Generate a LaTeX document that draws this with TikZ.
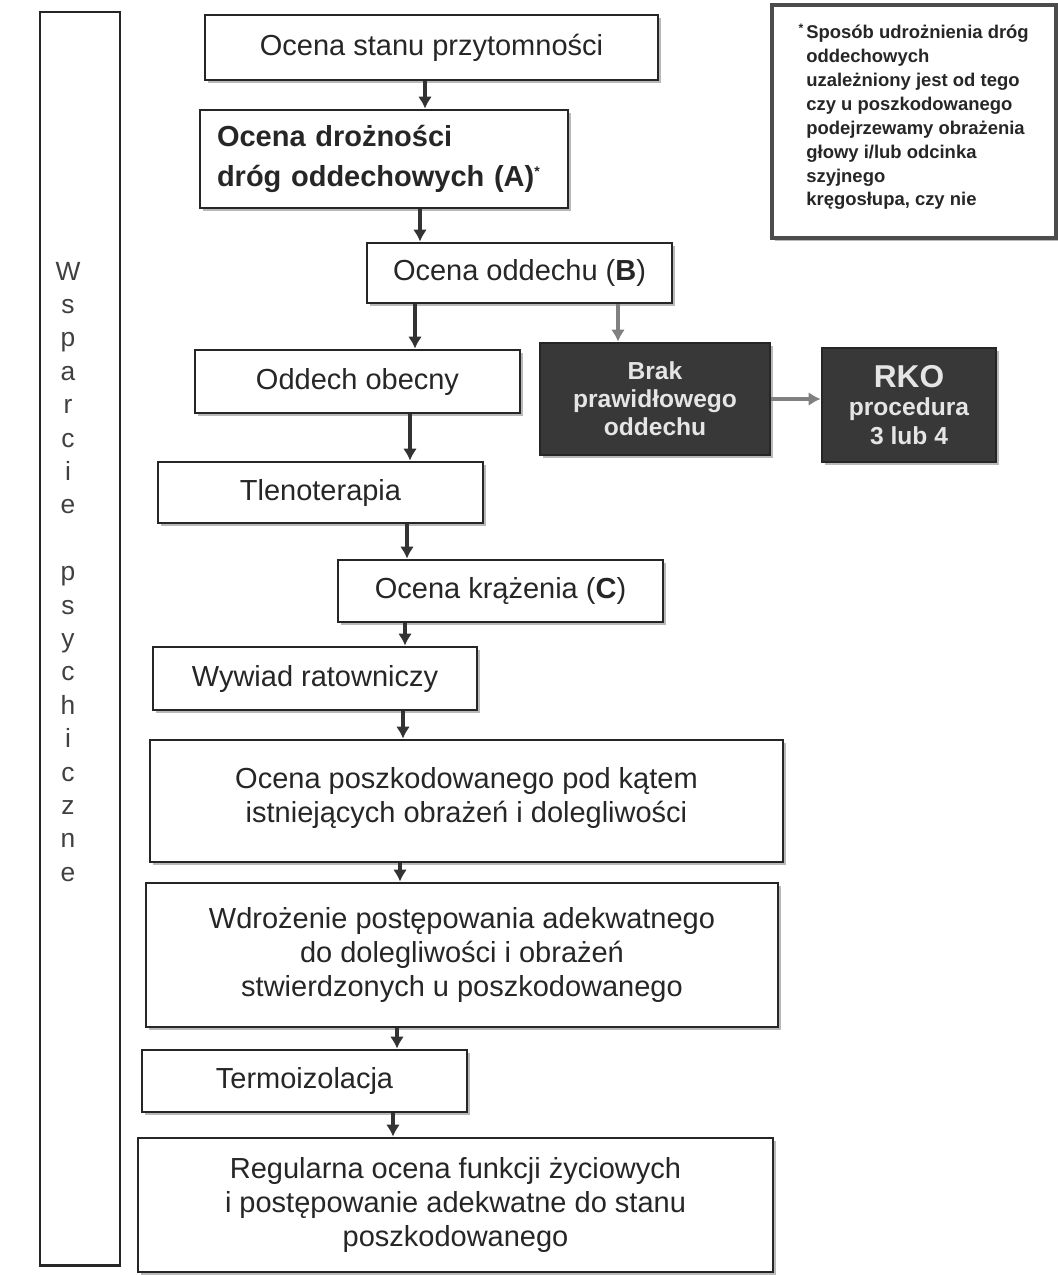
\documentclass[tikz,border=0pt]{standalone}
\usepackage{fontspec}
\setmainfont{Liberation Sans}
\usetikzlibrary{arrows.meta,shadows}
\begin{document}
\begin{tikzpicture}[x=0.02cm,y=-0.02cm,
  wh/.style 2 args={minimum width=#1*0.02cm,minimum height=#2*0.02cm},
  shad/.style={drop shadow={shadow xshift=0.05cm,shadow yshift=-0.05cm,fill=black!50,opacity=0.55}},
  box/.style={draw=black!85,line width=1.6pt,fill=white,inner sep=0pt,align=center,
    font=\fontsize{16.5}{19.5}\selectfont,text=black!85,shad},
  dark/.style={box,fill=black!78,text=white!90!black,font=\bfseries\fontsize{14}{16}\selectfont},
  arr/.style={line width=2.2pt,draw=black!80,-{Latex[length=0.24cm,width=0.28cm]}},
  garr/.style={arr,draw=black!50},
  letter/.style={anchor=base,inner sep=0pt,font=\fontsize{15}{15}\selectfont,text=black!75},
]
\fill[white] (0,0) rectangle (1058,1275);
\useasboundingbox (0,0) rectangle (1058,1275);

% left column
\node[draw=black!85,line width=1.7pt,inner sep=0pt,wh={80}{1253}] (col) at (80,638.5) {};
\foreach \l [count=\i] in {W,s,p,a,r,c,i,e,{},p,s,y,c,h,i,c,z,n,e}
  \node[letter] (ws\i) at (68,{280+(\i-1)*33.4}) {\l};

% note
\node[draw=black!70,line width=1.8pt,fill=white,inner sep=0pt,wh={284}{233},shad] (note) at (914,121.5) {};
\node[anchor=north west,inner sep=0pt,align=left,text=black!85,
  font=\bfseries\fontsize{10.5}{13.6}\selectfont] (notetxt) at (806,24)
  {\llap{\raisebox{0.6ex}{\fontsize{7}{7}\selectfont *}\,}Sposób udrożnienia dróg\\
   oddechowych\\
   uzależniony jest od tego\\
   czy u poszkodowanego\\
   podejrzewamy obrażenia\\
   głowy i/lub odcinka\\
   szyjnego\\
   kręgosłupa, czy nie};

% main flow
\node[box,wh={453}{65}] (b1) at (431.5,47.5) {Ocena stanu przytomności};
\node[box,wh={368}{98},align=left,text width=6.68cm,
  font=\bfseries\fontsize{16.5}{23}\selectfont] (b2) at (384,159)
  {Ocena drożności\\dróg oddechowych (A)\raisebox{0.7ex}{\fontsize{8}{8}\selectfont *}};
\node[box,wh={305}{60}] (b3) at (519.5,273) {Ocena oddechu (\textbf{B})};
\node[box,wh={325}{63}] (b4) at (357.5,381.5) {Oddech obecny};
\node[dark,wh={230}{112}] (brak) at (655,399) {Brak\\prawidłowego\\oddechu};
\node[dark,wh={174}{114}] (rko) at (909,405)
  {{\fontsize{18}{20}\selectfont RKO}\\procedura\\3 lub 4};
\node[box,wh={325}{61}] (b5) at (320.5,492.5) {Tlenoterapia};
\node[box,wh={325}{62}] (b6) at (500.5,591) {Ocena krążenia (\textbf{C})};
\node[box,wh={324}{63}] (b7) at (315,678.5) {Wywiad ratowniczy};
\node[box,wh={633}{122}] (b8) at (466.5,801)
  {Ocena poszkodowanego pod kątem\\istniejących obrażeń i dolegliwości\\[-12.5pt]};
\node[box,wh={632}{144}] (b9) at (462,955)
  {Wdrożenie postępowania adekwatnego\\do dolegliwości i obrażeń\\stwierdzonych u poszkodowanego};
\node[box,wh={325}{62}] (b10) at (304.5,1081) {Termoizolacja};
\node[box,wh={635}{134}] (b11) at (455.5,1205)
  {Regularna ocena funkcji życiowych\\i postępowanie adekwatne do stanu\\poszkodowanego};

% connectors
\draw[arr] (b1.south -| 425,0) -- (b2.north -| 425,0);
\draw[arr] (b2.south -| 420,0) -- (b3.north -| 420,0);
\draw[arr] (b3.south -| 415,0) -- (b4.north -| 415,0);
\draw[garr] (b3.south -| 618,0) -- (brak.north -| 618,0);
\draw[garr] (brak.east) -- (brak.east -| rko.west);
\draw[arr] (b4.south -| 410,0) -- (b5.north -| 410,0);
\draw[arr] (b5.south -| 407,0) -- (b6.north -| 407,0);
\draw[arr] (b6.south -| 405,0) -- (b7.north -| 405,0);
\draw[arr] (b7.south -| 403,0) -- (b8.north -| 403,0);
\draw[arr] (b8.south -| 400,0) -- (b9.north -| 400,0);
\draw[arr] (b9.south -| 397,0) -- (b10.north -| 397,0);
\draw[arr] (b10.south -| 393,0) -- (b11.north -| 393,0);
\end{tikzpicture}
\end{document}
